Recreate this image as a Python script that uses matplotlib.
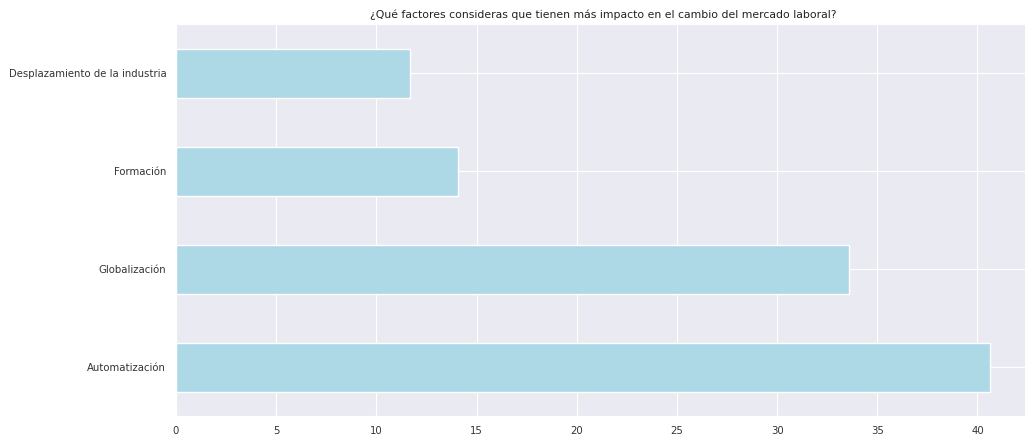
import matplotlib
matplotlib.use("Agg")
import matplotlib.pyplot as plt
import seaborn as sns

# Data
categories = ["Automatización", "Globalización", "Formación", "Desplazamiento de la industria"]
values = [40.64, 33.6, 14.08, 11.68]
title = "¿Qué factores consideras que tienen más impacto en el cambio del mercado laboral?"

sns.set_style("darkgrid")
plt.rcParams["font.family"] = ["DejaVu Sans"]

fig = plt.figure(figsize=(10.25, 4.34), dpi=100)
ax = fig.add_axes([176 / 1025, 18 / 434, (1031 - 176) / 1025, 392 / 434])

ax.barh(range(len(categories)), values, height=0.5, color="lightblue",
        edgecolor="white", linewidth=1)
ax.set_yticks(range(len(categories)))
ax.set_yticklabels(categories)
ax.set_ylim(-0.5, len(categories) - 0.5)
ax.set_xlim(0, max(values) * 1.05)
ax.set_xticks(range(0, 45, 5))
ax.tick_params(labelsize=7.3, colors="#333333")
ax.set_title(title, fontsize=7.8, color="#222222", pad=4)

fig.savefig("out.png", dpi=100)
